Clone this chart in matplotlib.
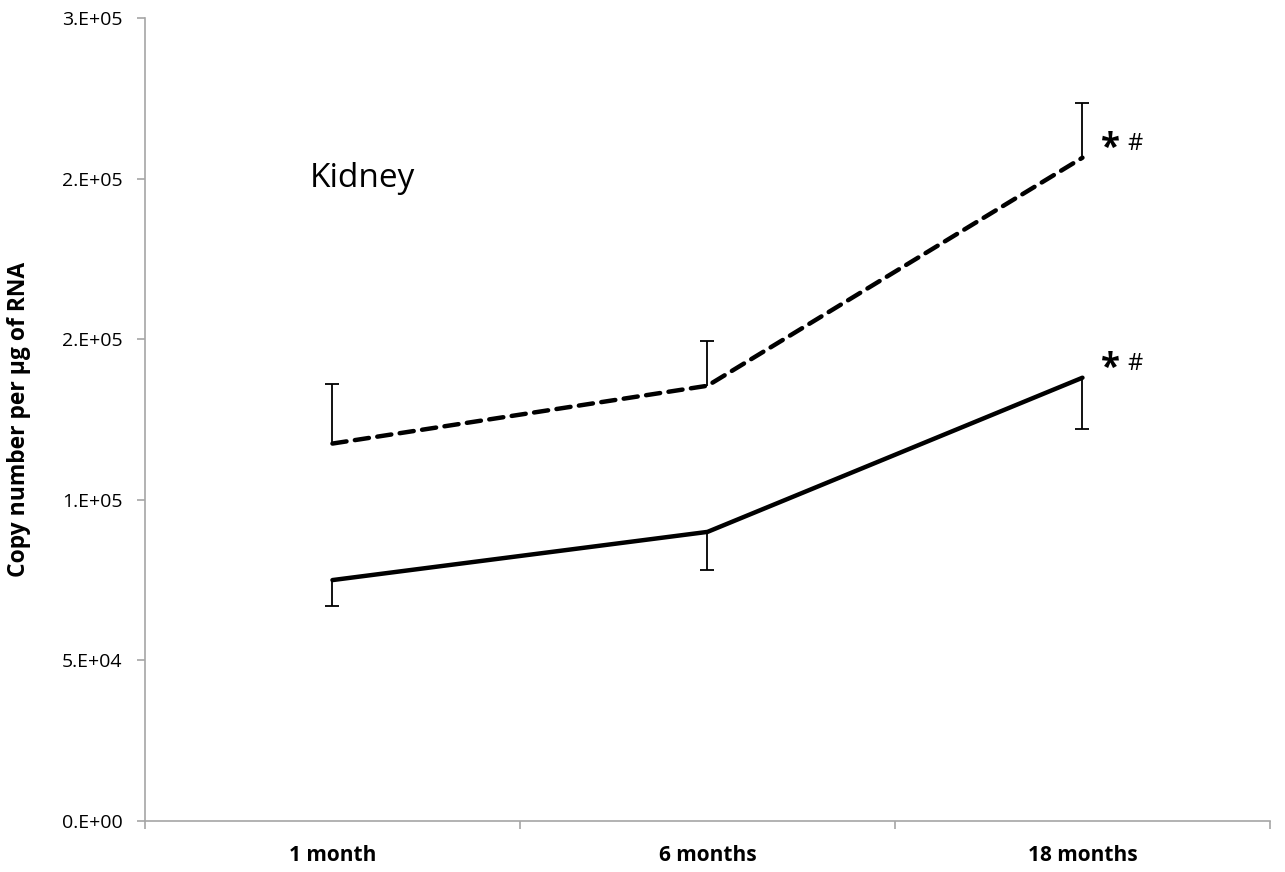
import numpy as np
import matplotlib.pyplot as plt
from matplotlib.ticker import FixedLocator

plt.rcParams['font.family'] = ['Open Sans', 'DejaVu Sans']

ages = ["1 month", "6 months", "18 months"]
solid_vals = [75000, 90000, 138000]
solid_err = [8000, 12000, 16000]
dashed_vals = [117500, 135500, 206500]
dashed_err = [18500, 14000, 17000]
y_ticks = [0, 50000, 100000, 150000, 200000, 250000]
y_labels = ["0.E+00", "5.E+04", "1.E+05", "2.E+05", "2.E+05", "3.E+05"]

x = np.arange(len(ages))

fig = plt.figure(figsize=(12.85, 8.72), dpi=100)
ax = fig.add_axes([0.1128, 0.0585, 0.8755, 0.9209])

# one-sided error bars: solid goes down, dashed goes up
lo = np.array(solid_vals) - np.array(solid_err)
hi = np.array(dashed_vals) + np.array(dashed_err)
ax.vlines(x, lo, solid_vals, color='black', lw=1.3, zorder=2)
ax.vlines(x, dashed_vals, hi, color='black', lw=1.3, zorder=2)
ax.plot(x, lo, ls='none', marker='_', ms=10, mew=1.3, color='black', zorder=2)
ax.plot(x, hi, ls='none', marker='_', ms=10, mew=1.3, color='black', zorder=2)

ax.plot(x, solid_vals, color='black', lw=3.2, solid_capstyle='round', zorder=3)
ax.plot(x, dashed_vals, color='black', lw=3.2, dashes=(3.2, 1.9),
        dash_capstyle='round', zorder=3)

for v in (solid_vals[2], dashed_vals[2]):
    ax.annotate("*", (2, v), xytext=(20, 6), textcoords='offset points',
                fontsize=25, fontweight='bold', ha='center', va='center')
    ax.annotate("#", (2, v), xytext=(32, 10), textcoords='offset points',
                fontsize=17, ha='left', va='center')

ax.text(-0.06, 2.0e5, "Kidney", fontsize=24, ha='left', va='center')

ax.set_xlim(-0.5, 2.5)
ax.set_ylim(0, 250000)
ax.set_yticks(y_ticks)
ax.set_yticklabels(y_labels, fontsize=14)
ax.xaxis.set_major_locator(FixedLocator([-0.5, 0.5, 1.5, 2.5]))
ax.set_xticklabels([])
ax.xaxis.set_minor_locator(FixedLocator(x))
ax.set_xticklabels(ages, minor=True, fontsize=15, fontweight='bold')
ax.tick_params(axis='x', which='minor', length=0, pad=17)
ax.tick_params(axis='x', which='major', length=6, color='#a6a6a6', width=1.2)
ax.tick_params(axis='y', length=6, color='#a6a6a6', width=1.2, pad=10)

for s in ('top', 'right'):
    ax.spines[s].set_visible(False)
for s in ('left', 'bottom'):
    ax.spines[s].set_color('#a6a6a6')
    ax.spines[s].set_linewidth(1.2)

ax.set_ylabel("Copy number per µg of RNA", fontsize=16.5, fontweight='bold', labelpad=22)

fig.savefig("out.png", dpi=100)
